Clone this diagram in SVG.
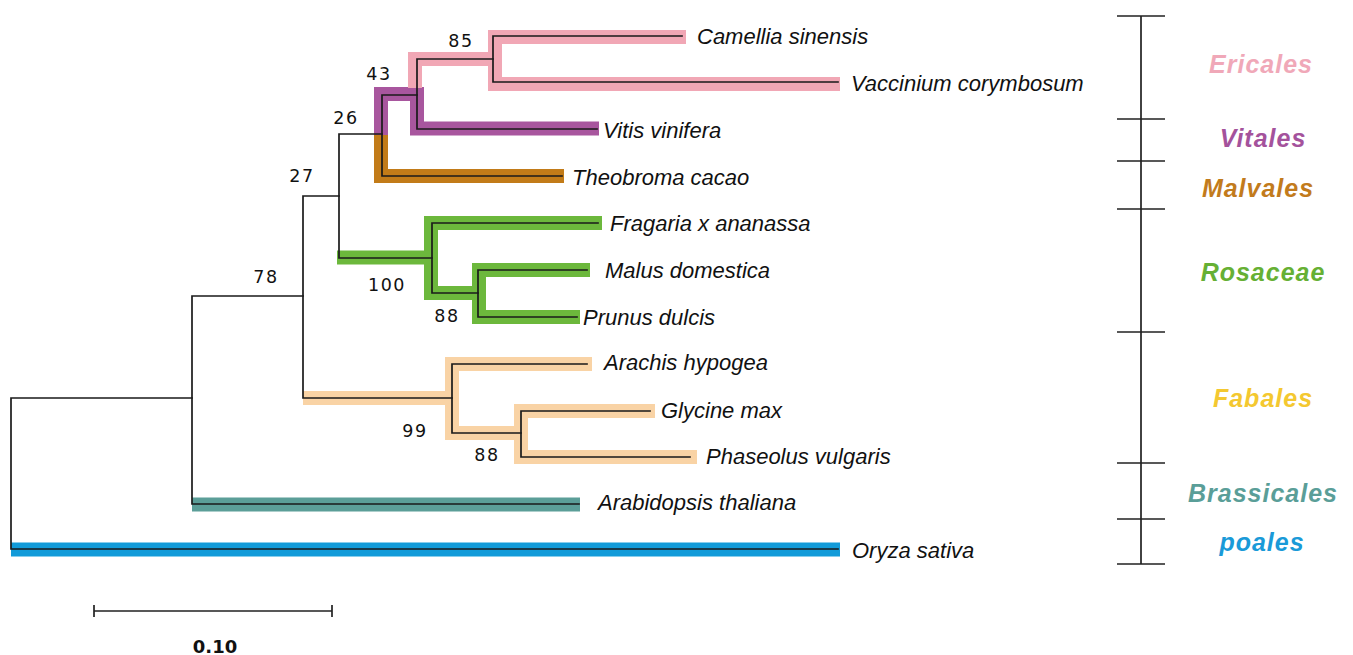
<svg xmlns="http://www.w3.org/2000/svg" width="1353" height="655" viewBox="0 0 1353 655">
<style>
.band{fill:none;stroke-width:14;stroke-linejoin:miter;stroke-linecap:butt}
.br{fill:none;stroke:#1a1a1a;stroke-width:1.7;stroke-linecap:square}
.tax{font-family:"Liberation Sans",Arial,sans-serif;font-style:italic;font-size:22px;fill:#111}
.bs{font-family:"DejaVu Sans",Verdana,sans-serif;font-size:17.5px;letter-spacing:1.5px;fill:#111;text-anchor:middle}
.cl{font-family:"Liberation Sans",Arial,sans-serif;font-style:italic;font-weight:bold;font-size:25px;letter-spacing:1px;text-anchor:middle}
.ax{stroke:#222;stroke-width:1.7;fill:none}
</style>
<rect width="1353" height="655" fill="#ffffff"/>
<g id="highlights">
<path class="band" stroke="#a8569e" d="M381,135 V94 H417 V128.5 H599"/>
<path class="band" stroke="#f1a7b5" d="M415,88 V59 H495 M686,37 H495 V84 H840"/>
<path class="band" stroke="#c27b18" d="M381,135 V176 H564"/>
<path class="band" stroke="#6cb83c" d="M337,257.5 H431 M602,223 H431 V293 H479 M590,270 H479 V317 H580"/>
<path class="band" stroke="#f9d3a5" d="M303,398 H452 M592,364 H452 V433 H521 M655,411 H521 V457 H697"/>
<path class="band" stroke="#5b9e98" stroke-width="15" d="M192,504.5 H580"/>
<path class="band" stroke="#129bd9" stroke-width="13" d="M11,549.5 H840"/>
</g>
<g id="connectors">
<path class="br" d="M11,398 V549 M11,398 H192 M11,549 H838"/>
<path class="br" d="M192,296 V504 M192,296 H303 M192,504 H579"/>
<path class="br" d="M303,196 V398 M303,196 H339 M303,398 H452"/>
<path class="br" d="M339,134 V258 M339,134 H382 M339,258 H432"/>
<path class="br" d="M382,95 V176 M382,95 H417 M382,176 H562"/>
<path class="br" d="M417,59 V129 M417,59 H493 M417,129 H597"/>
<path class="br" d="M493,36 V82 M493,36 H682 M493,82 H838"/>
<path class="br" d="M432,223 V293 M432,223 H598 M432,293 H478"/>
<path class="br" d="M478,270 V317 M478,270 H587 M478,317 H577"/>
<path class="br" d="M452,364 V433 M452,364 H587 M452,433 H521"/>
<path class="br" d="M521,411 V457 M521,411 H650 M521,457 H690"/>
</g>
<g id="taxa">
<text class="tax" x="697" y="44">Camellia sinensis</text>
<text class="tax" x="851" y="91">Vaccinium corymbosum</text>
<text class="tax" x="603" y="138">Vitis vinifera</text>
<text class="tax" x="572" y="185">Theobroma cacao</text>
<text class="tax" x="610" y="231">Fragaria x ananassa</text>
<text class="tax" x="605" y="278">Malus domestica</text>
<text class="tax" x="583" y="325">Prunus dulcis</text>
<text class="tax" x="604" y="370">Arachis hypogea</text>
<text class="tax" x="661" y="418">Glycine max</text>
<text class="tax" x="706" y="464">Phaseolus vulgaris</text>
<text class="tax" x="598" y="510">Arabidopsis thaliana</text>
<text class="tax" x="852" y="558">Oryza sativa</text>
</g>
<g id="bootstrap">
<text class="bs" x="461" y="47">85</text>
<text class="bs" x="379" y="80">43</text>
<text class="bs" x="346" y="124">26</text>
<text class="bs" x="302" y="182">27</text>
<text class="bs" x="266" y="283">78</text>
<text class="bs" x="387" y="291">100</text>
<text class="bs" x="447" y="322">88</text>
<text class="bs" x="415" y="437">99</text>
<text class="bs" x="487" y="461">88</text>
</g>
<g id="clade-axis">
<path class="ax" d="M1141,16 V564 M1117,16 H1165 M1117,119 H1165 M1117,161 H1165 M1117,209 H1165 M1117,332 H1165 M1117,463 H1165 M1117,519 H1165 M1117,564 H1165"/>
</g>
<g id="clades">
<text class="cl" x="1261" y="73" fill="#f0a8b8">Ericales</text>
<text class="cl" x="1263" y="147" fill="#a4529c">Vitales</text>
<text class="cl" x="1258" y="197" fill="#c27b1c">Malvales</text>
<text class="cl" x="1263" y="281" fill="#66b034">Rosaceae</text>
<text class="cl" x="1263" y="407" fill="#f4c830">Fabales</text>
<text class="cl" x="1263" y="502" fill="#5a9e98">Brassicales</text>
<text class="cl" x="1262" y="551" fill="#1a9ad8">poales</text>
</g>
<g id="scale-bar">
<path class="ax" d="M94,611 H332 M94,605 V617 M332,605 V617"/>
<text x="215" y="653" font-family="DejaVu Sans,Verdana,sans-serif" font-weight="bold" font-size="18" text-anchor="middle" fill="#111">0.10</text>
</g>
</svg>
